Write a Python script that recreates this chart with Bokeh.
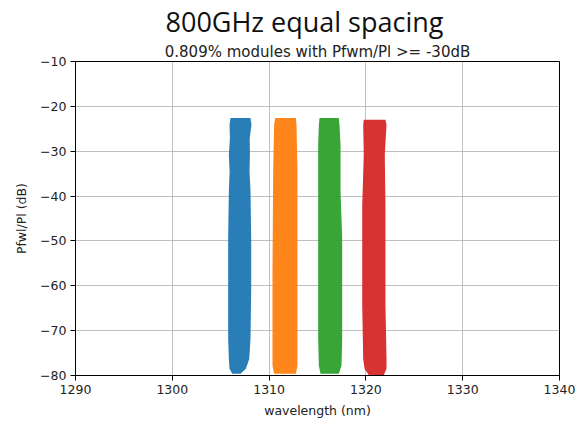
from bokeh.plotting import figure
from bokeh.models import Range1d, FixedTicker, Title
from bokeh.embed import file_html
from bokeh.resources import INLINE

# ---- data (outline of each scatter band) ----
blue_y     = [-22.6, -24.1, -27.1, -30.8, -34.5, -39.0, -49.4, -60.6, -71.8, -76.3, -78.5, -79.6]
blue_left  = [1306.01, 1305.91, 1305.95, 1305.84, 1305.92, 1305.84, 1305.77, 1305.77, 1305.77, 1305.84, 1305.91, 1306.19]
blue_right = [1308.08, 1308.18, 1308.00, 1308.02, 1307.98, 1308.08, 1308.15, 1308.15, 1308.08, 1307.95, 1307.60, 1307.05]

orange_y     = [-22.6, -24.1, -34.5, -56.9, -77.8, -79.6]
orange_left  = [1310.63, 1310.52, 1310.42, 1310.35, 1310.35, 1310.52]
orange_right = [1312.76, 1312.83, 1312.93, 1312.93, 1312.93, 1312.76]

green_y     = [-22.6, -24.1, -28.6, -39.0, -49.4, -71.8, -77.8, -79.6]
green_left  = [1315.21, 1315.14, 1315.07, 1315.07, 1315.07, 1315.07, 1315.14, 1315.31]
green_right = [1317.20, 1317.27, 1317.38, 1317.38, 1317.55, 1317.55, 1317.48, 1317.20]

red_y     = [-23.0, -24.1, -30.8, -42.0, -64.4, -76.3, -78.5, -79.9]
red_left  = [1319.78, 1319.72, 1319.78, 1319.62, 1319.62, 1319.72, 1319.86, 1320.30]
red_right = [1322.02, 1322.13, 1321.95, 1322.02, 1322.02, 1322.13, 1322.13, 1321.85]

x_ticks = [1290, 1300, 1310, 1320, 1330, 1340]
y_ticks = [-80, -70, -60, -50, -40, -30, -20, -10]
y_tick_labels = ["\u221280", "\u221270", "\u221260", "\u221250", "\u221240", "\u221230", "\u221220", "\u221210"]

title_text = "800GHz equal spacing"
subtitle_text = "0.809% modules with Pfwm/Pl >= -30dB"
x_label = "wavelength (nm)"
y_label = "Pfwl/Pl (dB)"

colors = ["#1f77b4", "#ff7f0e", "#2ca02c", "#d62728"]

p = figure(width=578, height=422, output_backend="svg", toolbar_location=None,
           x_range=Range1d(1290, 1340), y_range=Range1d(-80, -10),
           min_border_left=75, min_border_right=19, min_border_bottom=47, min_border_top=0)
p.background_fill_color = "white"
p.border_fill_color = "white"
p.outline_line_color = "black"
p.outline_line_width = 1

# titles: main (outer) title and a subtitle next to the frame
p.title.text = title_text
p.title.align = "left"
p.title.offset = 90
p.title.text_font = "Open Sans"
p.title.text_font_size = "27px"
p.title.text_font_style = "normal"
p.title.text_color = "#111111"
p.title.standoff = 0
sub = Title(text=subtitle_text, align="center", text_font="DejaVu Sans",
            text_font_size="15px", text_font_style="normal", text_color="#222222",
            standoff=2)
p.add_layout(sub, "above")

bands = [(blue_y, blue_left, blue_right), (orange_y, orange_left, orange_right),
         (green_y, green_left, green_right), (red_y, red_left, red_right)]
for (ys, xl, xr), c in zip(bands, colors):
    p.harea(y=ys, x1=xl, x2=xr, fill_color=c, fill_alpha=0.95)

# axes
p.xaxis.ticker = FixedTicker(ticks=x_ticks)
p.yaxis.ticker = FixedTicker(ticks=y_ticks)
p.yaxis.major_label_overrides = {t: l for t, l in zip(y_ticks, y_tick_labels)}
for ax in (p.xaxis[0], p.yaxis[0]):
    ax.axis_line_color = "black"
    ax.major_tick_line_color = "black"
    ax.major_tick_in = 0
    ax.major_tick_out = 5
    ax.minor_tick_line_color = None
    ax.major_label_text_font = "DejaVu Sans"
    ax.major_label_text_font_size = "12.5px"
    ax.major_label_text_color = "#222222"
    ax.axis_label_text_font = "DejaVu Sans"
    ax.axis_label_text_font_size = "12.5px"
    ax.axis_label_text_font_style = "normal"
    ax.axis_label_text_color = "#222222"
    ax.major_label_standoff = 4
p.xaxis.axis_label = x_label
p.yaxis.axis_label = y_label
p.xaxis.axis_label_standoff = 6
p.yaxis.axis_label_standoff = 8

p.xgrid.grid_line_color = "#b0b0b0"
p.ygrid.grid_line_color = "#b0b0b0"
p.xgrid.grid_line_width = 0.8
p.ygrid.grid_line_width = 0.8

open("out.html", "w").write(file_html(p, INLINE))
